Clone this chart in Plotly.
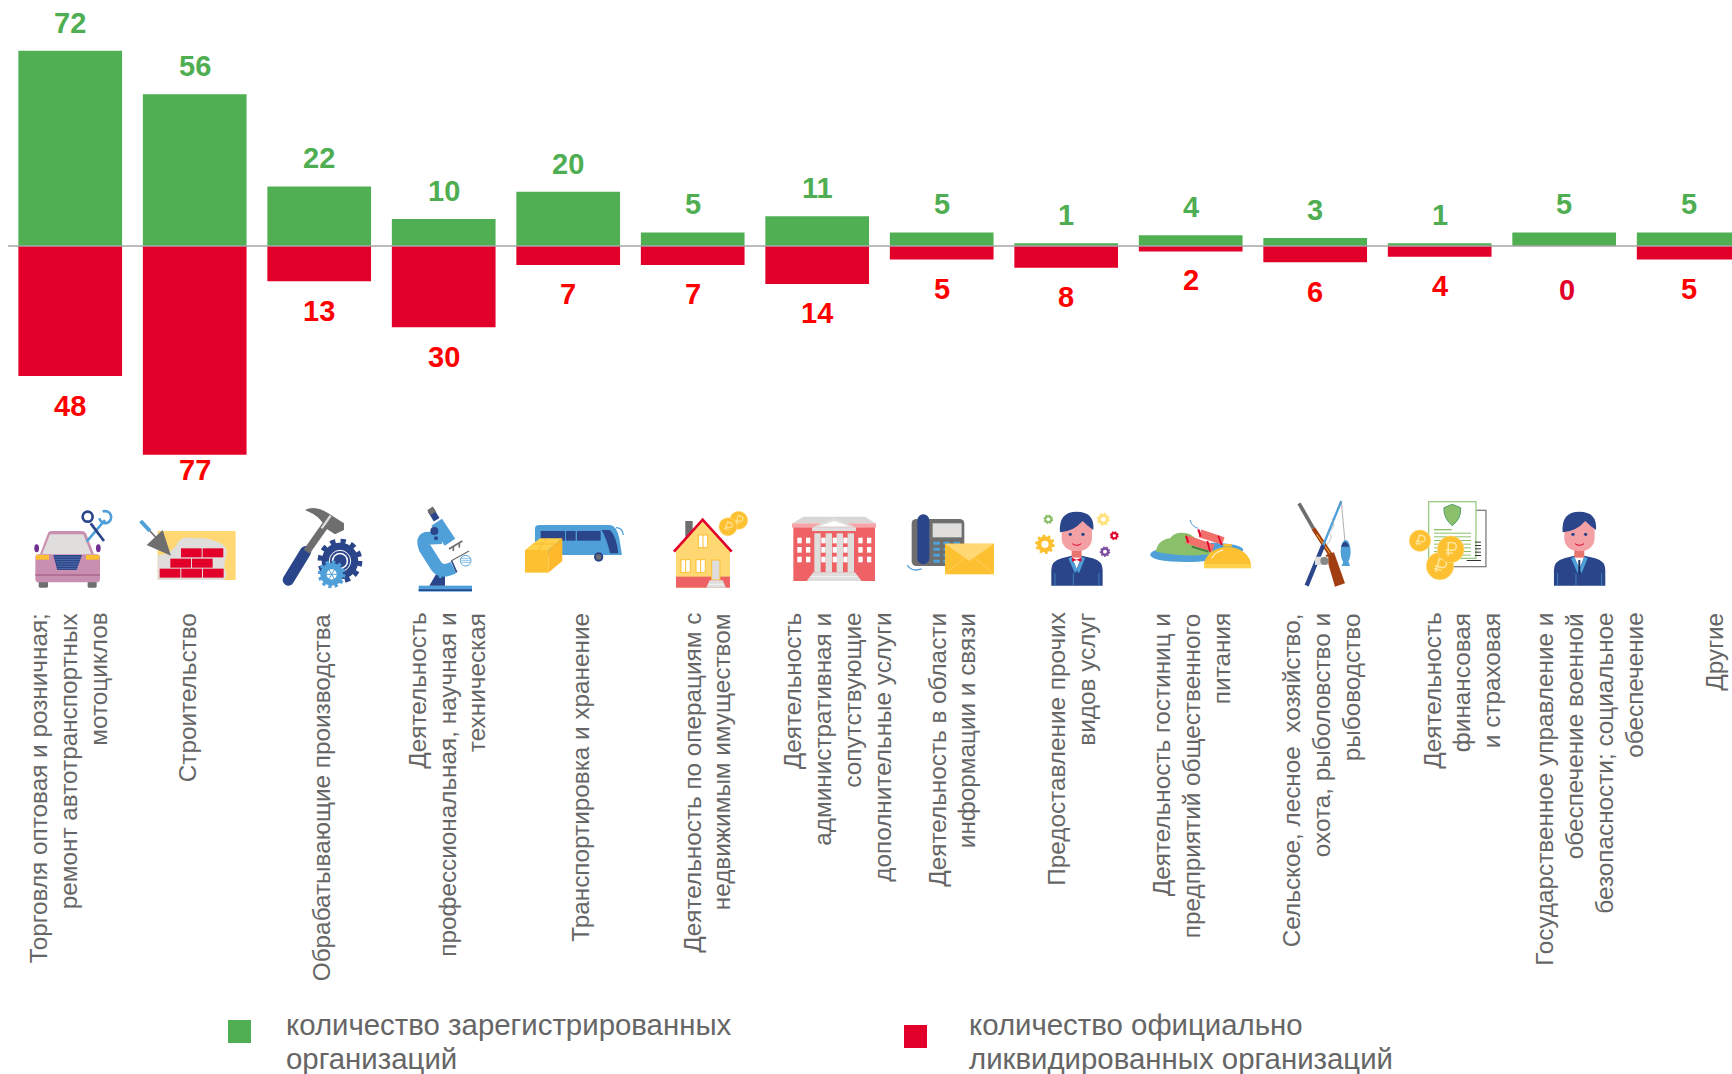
import base64
import math
import plotly.graph_objects as go

# ---------- data ----------
categories = [
    "Торговля оптовая и розничная;|ремонт автотранспортных|мотоциклов",
    "Строительство",
    "Обрабатывающие производства",
    "Деятельность|профессиональная, научная и|техническая",
    "Транспортировка и хранение",
    "Деятельность по операциям с|недвижимым имуществом",
    "Деятельность|административная и|сопутствующие|дополнительные услуги",
    "Деятельность в области|информации и связи",
    "Предоставление прочих|видов услуг",
    "Деятельность гостиниц и|предприятий общественного|питания",
    "Сельское, лесное  хозяйство,|охота, рыболовство и|рыбоводство",
    "Деятельность|финансовая|и страховая",
    "Государственное управление и|обеспечение военной|безопасности; социальное|обеспечение",
    "Другие",
]
registered = [72, 56, 22, 10, 20, 5, 11, 5, 1, 4, 3, 1, 5, 5]
liquidated = [48, 77, 13, 30, 7, 7, 14, 5, 8, 2, 6, 4, 0, 5]
legend_registered = ["количество зарегистрированных", "организаций"]
legend_liquidated = ["количество официально", "ликвидированных организаций"]

# ---------- styling / layout ----------
W, H = 1732, 1074
GREEN, RED = "#50AF53", "#E2002B"
LABEL_GREEN, LABEL_RED = "#4FAE51", "#FF0000"
GREY_TEXT = "#666666"
FONT = "Liberation Sans"
label_dx = [-2, -7, 2, 3, 12, 14, 20, 10, 5, 1, 6, 22, 25, 25]
red_shift = {0: 30, 1: 15, 2: 30, 3: 30, 10: 30, 12: 44}
LABEL_SIZE = 24.3
LABEL_PITCH = 30


def py(px):
    return 1 - px / H


def px_(px):
    return px / W


fig = go.Figure()
fig.add_bar(x=list(range(len(categories))), y=registered, marker_color=GREEN, marker_line_width=0,
            name="количество зарегистрированных организаций")
fig.add_bar(x=list(range(len(categories))), y=[-v for v in liquidated], marker_color=RED, marker_line_width=0,
            name="количество официально ликвидированных организаций")

ann = []
for i, (g, r) in enumerate(zip(registered, liquidated)):
    ann.append(dict(x=i, y=g, text=f"<b>{g}</b>", showarrow=False, yanchor="middle", yshift=28,
                    font=dict(family=FONT, size=29, color=LABEL_GREEN)))
    ann.append(dict(x=i, y=-r, text=f"<b>{r}</b>", showarrow=False, yanchor="middle",
                    xshift=3 if r == 0 else 0, yshift=-red_shift.get(i, 29),
                    font=dict(family=FONT, size=29, color=RED if r == 0 else LABEL_RED)))
    lines = categories[i].split("|")
    for j, ln in enumerate(lines):
        ann.append(dict(x=i, xref="x", y=py(611), yref="paper",
                        xshift=label_dx[i] + (j - (len(lines) - 1) / 2) * LABEL_PITCH,
                        text=ln.replace("  ", "&nbsp; "),
                        showarrow=False, textangle=-90, yanchor="top", xanchor="center",
                        font=dict(family=FONT, size=LABEL_SIZE, color=GREY_TEXT)))

for left, texts in ((284, legend_registered), (967, legend_liquidated)):
    for ln, y in zip(texts, (1024, 1058)):
        ann.append(dict(x=px_(left), y=py(y), xref="paper", yref="paper", text=ln, showarrow=False,
                        xanchor="left", yanchor="middle", font=dict(family=FONT, size=29.4, color=GREY_TEXT)))

shapes = [
    dict(type="line", xref="paper", yref="y", x0=px_(8), x1=1, y0=0, y1=0,
         line=dict(color="#A6A6A6", width=1.5), layer="above"),
    dict(type="rect", xref="paper", yref="paper", x0=px_(228), x1=px_(251), y0=py(1043), y1=py(1020),
         fillcolor=GREEN, line_width=0),
    dict(type="rect", xref="paper", yref="paper", x0=px_(904), x1=px_(927), y0=py(1048), y1=py(1025),
         fillcolor=RED, line_width=0),
]

# ---------- pictograms (decorative, crop coordinates are 3x page pixels) ----------
DB, LB, GOLD, YEL, COR, GR, LG, PK = "#2A4589", "#4F9FD9", "#FDC030", "#FFD873", "#EE6266", "#6E6E6E", "#DFDEDC", "#F4A1A6"
PUR = "#C88FB0"
LGREEN = "#8BC06A"


def rect(x0, y0, x1, y1, c, rx=0, extra=""):
    return f'<rect x="{x0}" y="{y0}" width="{x1-x0}" height="{y1-y0}" fill="{c}" rx="{rx}" {extra}/>'


def line(x0, y0, x1, y1, c, w, cap="butt"):
    return f'<line x1="{x0}" y1="{y0}" x2="{x1}" y2="{y1}" stroke="{c}" stroke-width="{w}" stroke-linecap="{cap}"/>'


def poly(pts, c):
    return f'<polygon points="{pts}" fill="{c}"/>'


def circ(x, y, r, c, extra=""):
    return f'<circle cx="{x}" cy="{y}" r="{r}" fill="{c}" {extra}/>'


def path(d, c="none", extra=""):
    return f'<path d="{d}" fill="{c}" {extra}/>'


def gear(x, y, r, c, n=10, hole="#FFFFFF"):
    circ_len = 2 * math.pi * r * 1.05
    dash = circ_len / (2 * n)
    s = circ(x, y, r, c)
    s += (f'<circle cx="{x}" cy="{y}" r="{r*1.05:.2f}" fill="none" stroke="{c}" stroke-width="{r*.34:.2f}" '
          f'stroke-dasharray="{dash:.2f} {dash:.2f}"/>')
    s += circ(x, y, r * .45, hole)
    return s


def coin(x, y, r, rot=15):
    s = circ(x, y, r, GOLD, 'stroke="#FFD873" stroke-width="2"')
    k = r / 28
    s += (f'<g transform="translate({x},{y}) rotate({rot}) scale({k:.2f})" stroke="#FFE9A8" stroke-width="3" fill="none">'
          '<path d="M-5 14 V-14 H4 A7 7 0 0 1 4 2 H-10 M-10 8 H5"/></g>')
    return s


def person(dx):
    s = f'<g transform="translate({dx},0)">'
    s += path("M814 272 V225 Q814 198 845 190 L875 182 H905 L938 190 Q968 198 968 225 V272 Z", DB)
    s += poly("875,185 905,185 890,222", "#FFFFFF")
    s += poly("865,190 875,185 892,225 885,235", LB) + poly("915,190 905,185 890,225 897,235", LB)
    s += line(880, 235, 880, 272, LB, 2) + line(825, 235, 825, 272, LB, 2) + line(957, 235, 957, 272, LB, 2)
    s += rect(875, 160, 905, 188, "#E8746F")
    s += rect(845, 60, 936, 168, PK, 38)
    s += path("M840 112 Q835 50 890 50 Q945 50 940 105 Q925 95 908 78 Q880 110 840 112 Z", DB)
    s += circ(871, 118, 5, DB) + circ(909, 118, 5, DB)
    s += path("M877 146 Q890 156 904 146", "none", 'stroke="#E2002B" stroke-width="3"')
    s += '</g>'
    return s


car = (
    path("M60 178 L85 112 Q88 108 98 108 H185 Q193 108 198 115 L222 178 Z", PUR)
    + poly("66,178 90,118 190,118 214,178", LG)
    + f'<ellipse cx="50" cy="160" rx="7" ry="12" fill="#6F2C91"/><ellipse cx="235" cy="160" rx="7" ry="12" fill="#6F2C91"/>'
    + rect(56, 255, 84, 278, GR, 4) + rect(203, 255, 230, 278, GR, 4)
    + rect(46, 178, 240, 262, PUR, 10)
    + rect(48, 180, 87, 194, GOLD) + rect(198, 180, 238, 194, GOLD)
    + rect(46, 238, 240, 242, "#A8608C")
    + poly("100,180 186,180 170,225 112,225", DB)
    + "".join(line(104 + i * 2, 186 + i * 7, 182 - i * 2, 186 + i * 7, "#7E93C6", 1.5) for i in range(6))
    + line(200, 140, 255, 75, LB, 8)
    + path("M248 50 A18 18 0 1 1 238 70", "none", f'stroke="{LB}" stroke-width="8"')
    + line(252, 138, 212, 85, DB, 8)
    + circ(203, 65, 15, "none", f'stroke="{DB}" stroke-width="8"')
)
wall = (
    rect(413, 108, 647, 255, YEL)
    + path("M413 180 Q450 180 470 150 Q480 120 520 130 Q560 125 590 140 Q625 150 620 180 Q610 210 615 225 Q625 240 612 255 H413 Z", LG)
    + "".join(rect(a, b, a + 62, b + 27, RED) for a, b in [(483, 160), (548, 160), (451, 191), (516, 191), (419, 221), (484, 221), (549, 221)])
    + line(362, 78, 390, 108, LB, 12) + line(390, 108, 412, 132, GR, 5)
    + poly("428,105 380,150 453,182", GR)
)
hammer = (
    line(805, 255, 857, 170, DB, 34, "round")
    + line(860, 170, 920, 85, GR, 22)
    + path("M855 45 Q885 30 925 55 L972 85 V105 L945 118 L915 98 Q905 65 855 45 Z", GR)
    + line(932, 62, 905, 100, LG, 7)
    + gear(960, 198, 55, DB, 12)
    + circ(960, 198, 32, "none", 'stroke="#FFFFFF" stroke-width="3"')
    + circ(960, 198, 20, DB)
    + gear(935, 238, 34, LB, 12)
    + "".join(line(935, 238, 935 + 30 * math.cos(a * math.pi / 3), 238 + 30 * math.sin(a * math.pi / 3), LB, 3) for a in range(6))
)
crop1 = car + wall + hammer

microscope = (
    rect(56, 272, 216, 290, LB) + rect(56, 283, 216, 288, DB)
    + poly("88,272 108,238 135,240 135,272", DB) + circ(121, 245, 5, LB)
    + path("M125 128 L78 130 Q65 135 75 160 L110 215 Q125 235 160 218", "none", f'stroke="{LB}" stroke-width="38"')
    + line(110, 82, 150, 142, LB, 38)
    + line(92, 45, 110, 74, DB, 20) + line(90, 40, 100, 55, GR, 20)
    + circ(103, 108, 12, DB) + circ(108, 130, 6, DB)
    + line(147, 162, 187, 138, GR, 6) + line(160, 155, 160, 168, GR, 5) + line(178, 145, 178, 158, GR, 5)
    + line(153, 198, 207, 168, GR, 4) + line(155, 198, 170, 232, DB, 5)
    + circ(197, 197, 16, "#FFFFFF", f'stroke="{LB}" stroke-width="3"')
    + "".join(line(184, 190 + i * 6, 210, 190 + i * 6, LB, 2) for i in range(3))
)
bus = (
    path("M405 100 Q405 90 420 90 H630 Q650 92 658 130 L666 180 H405 Z", LB)
    + rect(422, 108, 495, 137, DB) + rect(498, 108, 527, 137, DB) + rect(531, 108, 602, 137, DB)
    + path("M605 105 H630 Q650 125 655 175 H630 Q622 135 605 105 Z", DB)
    + path("M648 98 Q668 98 670 120", "none", f'stroke="{LB}" stroke-width="4"')
    + circ(596, 186, 14, DB) + circ(596, 186, 8, GR)
    + poly("375,165 420,130 487,130 445,165", "#FFD14A")
    + poly("445,165 487,130 487,198 445,233", "#FDB82C")
    + rect(375, 165, 445, 233, GOLD)
    + line(398, 147, 465, 147, "#FDB82C", 3) + line(440, 130, 415, 165, "#FDB82C", 3)
)
house = (
    coin(1016, 76, 27) + coin(984, 95, 27)
    + rect(856, 78, 878, 125, GR)
    + poly("828,165 908,78 990,165 990,278 828,278", YEL)
    + rect(828, 245, 990, 278, COR)
    + f'<polyline points="822,170 908,74 995,170" fill="none" stroke="{RED}" stroke-width="8"/>'
    + "".join(rect(a, b, a + 28, b + 38, "#FFFFFF", 0, f'stroke="{GOLD}" stroke-width="3"') + line(a + 14, b, a + 14, b + 38, GOLD, 3)
              for a, b in [(895, 120), (843, 194), (888, 194)])
    + rect(935, 195, 960, 255, LG, 0, f'stroke="{GOLD}" stroke-width="3"')
    + poly("919,278 929,256 968,256 978,278", LG)
    + line(925, 268, 972, 268, "#FFFFFF", 2)
)
crop2 = microscope + bus + house

building = (
    poly("38,85 70,65 255,65 287,85", "#D9D7D5")
    + rect(40, 90, 285, 258, COR) + rect(36, 85, 288, 98, "#F6A6A8")
    + "".join(rect(a, b, a + 13, b + 17, "#FFFFFF") for a in (52, 78, 124, 158, 190, 235, 261) for b in (128, 156, 185))
    + poly("95,98 162,68 230,98", LG) + poly("118,94 162,78 207,94", "#FFFFFF")
    + rect(96, 98, 228, 108, LG)
    + "".join(rect(a, 115, a + 19, 232, LG) for a in (103, 137, 170, 203))
    + poly("80,258 100,232 225,232 245,258", LG)
    + line(92, 245, 232, 245, "#FFFFFF", 2)
)
phone = (
    path("M382 210 Q395 232 425 222", "none", f'stroke="{LB}" stroke-width="4"')
    + rect(395, 72, 553, 213, GR, 14)
    + rect(458, 85, 545, 127, LG)
    + "".join(rect(a, b, a + 20, b + 9, LB, 2) for a in (460, 490, 520) for b in (140, 158, 176, 194))
    + rect(412, 58, 448, 208, DB, 18)
    + rect(495, 146, 642, 238, GOLD)
    + poly("495,146 642,146 568,198", YEL)
    + line(495, 238, 552, 190, YEL, 2) + line(642, 238, 585, 190, YEL, 2)
)
service = (
    person(0)
    + poly("876,188 890,194 904,188 904,200 890,195 876,200", RED)
    + gear(795, 148, 24, GOLD, 10) + gear(805, 73, 12, LGREEN, 8) + gear(970, 73, 16, "#FFE27A", 8)
    + gear(1003, 122, 11, RED, 8) + gear(975, 170, 13, "#7B4B9E", 9)
)
crop3 = building + phone + service

food = (
    f'<ellipse cx="50" cy="172" rx="140" ry="28" fill="{LB}" transform="rotate(-3 50 172)"/>'
    + path("M-72 170 Q-68 135 -30 130 Q-10 105 30 118 L110 175 Q30 190 -72 170 Z", LGREEN)
    + line(60, 115, 130, 138, "#F2706C", 24) + line(20, 133, 100, 160, "#F2706C", 24)
    + line(115, 122, 125, 150, RED, 5) + line(82, 138, 90, 170, RED, 5) + line(55, 103, 62, 125, RED, 6) + line(18, 122, 25, 143, RED, 6)
    + path("M55 100 Q35 95 30 75", "none", f'stroke="{LB}" stroke-width="3"')
    + line(35, 155, 85, 170, "#3F7D3F", 6)
    + rect(130, 147, 155, 155, GOLD)
    + path("M72 207 A71 58 0 0 1 213 207 Z", GOLD)
    + rect(72, 207, 213, 220, "#FFD14A")
    + path("M95 190 Q105 170 130 165", "none", 'stroke="#FFFFFF" stroke-width="3"')
)
gear_rod = (
    line(357, 25, 400, 100, GR, 11) + line(400, 100, 462, 195, "#A23F12", 13) + line(410, 118, 460, 190, GOLD, 3)
    + poly("437,180 462,172 495,265 465,275", "#A23F12")
    + line(380, 272, 430, 150, DB, 13) + line(430, 150, 484, 18, LB, 7)
    + path("M484 20 L495 140", "none", 'stroke="#888888" stroke-width="2"')
    + path("M455 70 Q470 90 450 110 M445 110 Q465 125 440 150", "none", 'stroke="#AAAAAA" stroke-width="2"')
    + f'<ellipse cx="497" cy="170" rx="15" ry="35" fill="{LB}"/>' + poly("490,200 506,200 510,213 485,213", LB)
    + path("M483 155 Q495 125 508 155 Z", DB)
    + rect(405, 185, 445, 210, LG) + circ(433, 198, 12, "#888888")
)
doc = (
    rect(780, 46, 918, 215, "#FFFFFF", 0, 'stroke="#808080" stroke-width="4"')
    + rect(746, 20, 888, 190, "#FFFFFF", 0, f'stroke="#9CCB86" stroke-width="4"')
    + path("M792 38 L817 28 L842 38 Q845 70 817 92 Q790 70 792 38 Z", LGREEN, 'stroke="#4E9C63" stroke-width="3"')
    + rect(762, 102, 815, 106, LGREEN)
    + "".join(rect(762, y, 873, y + 3, LGREEN) for y in (113, 124, 135, 146, 157, 168, 179))
    + "".join(rect(885, y, 903, y + 3, "#333333") for y in (140, 150, 160, 170, 180))
    + rect(860, 195, 903, 198, "#333333")
    + coin(720, 137, 32) + coin(780, 213, 41) + coin(812, 163, 40, 0)
)
official = person(308) + line(1198, 195, 1198, 235, "#1C2F63", 6)
crop4 = food + gear_rod + doc + official

svg = (
    f'<svg xmlns="http://www.w3.org/2000/svg" width="{W}" height="105" viewBox="0 0 {W} 105">'
    f'<g transform="translate(20,0) scale(0.3333)">{crop1}</g>'
    f'<g transform="translate(400,0) scale(0.3333)">{crop2}</g>'
    f'<g transform="translate(780,0) scale(0.3333)">{crop3}</g>'
    f'<g transform="translate(1180,0) scale(0.3333)">{crop4}</g>'
    '</svg>'
)
icon_src = "data:image/svg+xml;base64," + base64.b64encode(svg.encode("utf-8")).decode("ascii")

fig.update_layout(
    width=W, height=H, margin=dict(l=0, r=0, t=0, b=0),
    paper_bgcolor="white", plot_bgcolor="white",
    barmode="relative", bargap=0.167, showlegend=False,
    xaxis=dict(range=[-0.564, 13.348], visible=False, fixedrange=True),
    yaxis=dict(range=[-305.5, 90.77], visible=False, fixedrange=True),
    annotations=ann, shapes=shapes,
    images=[dict(source=icon_src, xref="paper", yref="paper", x=0, y=py(495), sizex=1, sizey=105 / H,
                 xanchor="left", yanchor="top", sizing="stretch", layer="above")],
)
fig.write_html("out.html", config={"displayModeBar": False}, post_script="document.body.style.margin='0';")
